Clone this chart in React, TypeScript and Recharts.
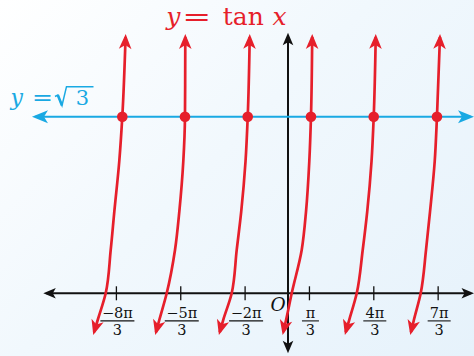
import React from 'react';
import { ComposedChart, Line, Scatter, XAxis, YAxis } from 'recharts';

const RED = '#e61f2b';
const BLUE = '#19a9e3';
const INK = '#111111';
const SERIF = '"DejaVu Serif", serif';

// x in units of pi, y in plain units
const branchY = [-0.38, -0.262, 0, 0.425, 0.801, 1.295, 1.732, 2.514];
const branch1X = [-3.013, -2.957, -2.833, -2.755, -2.699, -2.622, -2.575, -2.524];
const branch2X = [-2.051, -2.0, -1.885, -1.756, -1.689, -1.627, -1.601, -1.596];
const branch3X = [-1.061, -1.007, -0.875, -0.797, -0.727, -0.66, -0.626, -0.595];
const branch4X = [-0.073, -0.03, 0.0575, 0.213, 0.28, 0.331, 0.357, 0.376];
const branch5X = [0.897, 0.951, 1.068, 1.161, 1.231, 1.298, 1.332, 1.363];
const branch6X = [1.911, 1.956, 2.062, 2.145, 2.207, 2.28, 2.315, 2.361];

const SQRT3 = 1.732;
const intersectX = [-2.575, -1.601, -0.626, 0.357, 1.332, 2.315];

const tickValues = [-8 / 3, -5 / 3, -2 / 3, 1 / 3, 4 / 3, 7 / 3];
const tickNumerators = ['−8π', '−5π', '−2π', 'π', '4π', '7π'];
const tickDenominator = '3';

const xAxisEnds = [-3.756, 2.844];
const yAxisEnds = [-0.559, 2.526];
const sqrt3LineEnds = [-3.932, 2.844];

const X_DOMAIN: [number, number] = [-4.4755, 2.8904];
const Y_DOMAIN: [number, number] = [-0.615, 2.8766];

const branches = [branch1X, branch2X, branch3X, branch4X, branch5X, branch6X].map((xs) =>
  xs.map((x, i) => ({ x, y: branchY[i] }))
);
const dots = intersectX.map((x) => ({ x, y: SQRT3 }));
const ticks = tickValues.map((x, i) => ({ x, y: 0, num: tickNumerators[i], den: tickDenominator }));
const xAxisData = xAxisEnds.map((x) => ({ x, y: 0 }));
const yAxisData = yAxisEnds.map((y) => ({ x: 0, y }));
const sqrt3Data = sqrt3LineEnds.map((x) => ({ x, y: SQRT3 }));

const TickShape = (props: any) => {
  const { cx, cy, payload } = props;
  const num: string = payload.num;
  const barW = num.length >= 3 ? 34 : num.length === 2 ? 23 : 17;
  return (
    <g>
      <line x1={cx} x2={cx} y1={cy - 7} y2={cy + 7} stroke={INK} strokeWidth={1.3} />
      <text x={cx + 1} y={cy + 25} textAnchor="middle" fontFamily={SERIF} fontSize={14.5} fill={INK}>
        {num}
      </text>
      <line x1={cx - barW / 2 + 1} x2={cx + barW / 2 + 1} y1={cy + 27.6} y2={cy + 27.6} stroke={INK} strokeWidth={1.1} />
      <text x={cx + 1} y={cy + 41.7} textAnchor="middle" fontFamily={SERIF} fontSize={14.5} fill={INK}>
        {payload.den}
      </text>
    </g>
  );
};

const DotShape = (props: any) => <circle cx={props.cx} cy={props.cy} r={5.3} fill={RED} />;

const OriginShape = (props: any) => (
  <text x={props.cx - 10} y={props.cy + 17.6} textAnchor="middle" fontFamily={SERIF} fontStyle="italic" fontSize={18.5} fill={INK}>
    O
  </text>
);

export default function App() {
  return (
    <div
      style={{
        position: 'absolute',
        left: 0,
        top: 0,
        width: 474,
        height: 356,
        background: 'linear-gradient(135deg, #ffffff 0%, #f1f8fd 45%, #e6f2fb 100%)',
      }}
    >
      <svg width={0} height={0} style={{ position: 'absolute' }}>
        <defs>
          <marker id="arrRed" viewBox="-16 -8 20 16" markerWidth={20} markerHeight={16} refX={0} refY={0} markerUnits="userSpaceOnUse" orient="auto-start-reverse">
            <path d="M3,0 L-12,-6.3 L-8,0 L-12,6.3 Z" fill={RED} />
          </marker>
          <marker id="arrBlue" viewBox="-16 -8 20 16" markerWidth={20} markerHeight={16} refX={0} refY={0} markerUnits="userSpaceOnUse" orient="auto-start-reverse">
            <path d="M3,0 L-13,-6.5 L-9,0 L-13,6.5 Z" fill={BLUE} />
          </marker>
          <marker id="arrBlack" viewBox="-16 -8 20 16" markerWidth={20} markerHeight={16} refX={0} refY={0} markerUnits="userSpaceOnUse" orient="auto-start-reverse">
            <path d="M3,0 L-9.5,-5.3 L-6.5,0 L-9.5,5.3 Z" fill={INK} />
          </marker>
        </defs>
      </svg>
      <ComposedChart width={474} height={356} margin={{ top: 0, right: 0, bottom: 0, left: 0 }}>
        <XAxis type="number" dataKey="x" domain={X_DOMAIN} allowDataOverflow hide />
        <YAxis type="number" dataKey="y" domain={Y_DOMAIN} allowDataOverflow hide />
        <Line data={xAxisData} dataKey="y" type="linear" stroke={INK} strokeWidth={2} dot={false} activeDot={false} isAnimationActive={false} markerStart="url(#arrBlack)" markerEnd="url(#arrBlack)" />
        <Line data={yAxisData} dataKey="y" type="linear" stroke={INK} strokeWidth={2} dot={false} activeDot={false} isAnimationActive={false} markerStart="url(#arrBlack)" markerEnd="url(#arrBlack)" />
        <Scatter data={ticks} shape={TickShape} isAnimationActive={false} />
        <Scatter data={[{ x: 0, y: 0 }]} shape={OriginShape} isAnimationActive={false} />
        <Line data={sqrt3Data} dataKey="y" type="linear" stroke={BLUE} strokeWidth={2} dot={false} activeDot={false} isAnimationActive={false} markerStart="url(#arrBlue)" markerEnd="url(#arrBlue)" />
        {branches.map((b, i) => (
          <Line key={i} data={b} dataKey="y" type="monotoneY" stroke={RED} strokeWidth={2.7} dot={false} activeDot={false} isAnimationActive={false} markerStart="url(#arrRed)" markerEnd="url(#arrRed)" />
        ))}
        <Scatter data={dots} shape={DotShape} isAnimationActive={false} />
        <text x={173.3} y={25} textAnchor="middle" fontFamily={SERIF} fontStyle="italic" fontSize={25} fill={RED}>y</text>
        <text x={196.7} y={25} textAnchor="middle" fontFamily={SERIF} fontSize={25} fill={RED} textLength={29} lengthAdjust="spacingAndGlyphs">=</text>
        <text x={243.3} y={25} textAnchor="middle" fontFamily={SERIF} fontSize={25} fill={RED}>tan</text>
        <text x={279.5} y={25} textAnchor="middle" fontFamily={SERIF} fontStyle="italic" fontSize={25} fill={RED}>x</text>
        <text x={16.7} y={105} textAnchor="middle" fontFamily={SERIF} fontStyle="italic" fontSize={22} fill={BLUE}>y</text>
        <text x={42.5} y={105} textAnchor="middle" fontFamily={SERIF} fontSize={22} fill={BLUE} textLength={21} lengthAdjust="spacingAndGlyphs">=</text>
        <path d="M55,96.5 L57.8,95 L62,105.5 L66.5,86.7 L93.5,86.7" fill="none" stroke={BLUE} strokeWidth={1.5} strokeLinejoin="miter" />
        <path d="M57.8,95 L62,105.5" fill="none" stroke={BLUE} strokeWidth={2.6} />
        <text x={82.5} y={105} textAnchor="middle" fontFamily={SERIF} fontSize={21} fill={BLUE}>3</text>
      </ComposedChart>
    </div>
  );
}
